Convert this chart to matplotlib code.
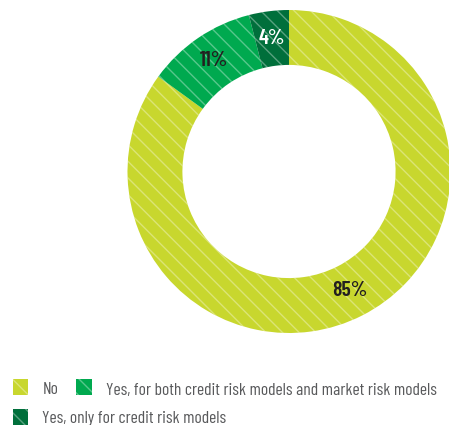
import matplotlib
matplotlib.use("Agg")
import matplotlib.pyplot as plt
from matplotlib.patches import Rectangle

# Share of answers
labels = ['No', 'Yes, for both credit risk models and market risk models',
          'Yes, only for credit risk models']
values = [85, 11, 4]
colors = ['#C8D72E', '#00A94F', '#006F3B']
label_colors = ['#231F20', '#231F20', '#FFFFFF']

FONT = ['Barlow Condensed', 'DejaVu Sans']
plt.rcParams['font.family'] = FONT
plt.rcParams['hatch.linewidth'] = 1.0

fig = plt.figure(figsize=(4.49, 4.25), dpi=100)
ax = fig.add_axes([127.5 / 449, 92 / 425, 323 / 449, 323 / 425])

wedges, texts, autotexts = ax.pie(
    values, colors=colors, startangle=90, counterclock=False, radius=1,
    wedgeprops=dict(width=0.34, linewidth=0, edgecolor=(1, 1, 1, 0.35)),
    autopct='%d%%', pctdistance=0.83,
)
for w in wedges:
    w.set_hatch('\\\\')
    w.set_clip_on(False)
for t, c in zip(autotexts, label_colors):
    t.set_color(c)
    t.set_fontsize(15.5)
    t.set_fontweight(600)
ax.set_xlim(-1, 1)
ax.set_ylim(-1, 1)
ax.axis('off')

# legend drawn by hand: two items on first row, one on second
# (x of square, y of square centre, y of text baseline) in pixels from top-left
legend_pos = [(12.5, 387, 394.5), (76, 387, 394.5), (12.5, 417, 423.5)]
for (x, y, base), lab, col in zip(legend_pos, labels, colors):
    r = Rectangle((x / 449, 1 - (y + 8) / 425), 16 / 449, 16 / 425,
                  transform=fig.transFigure, facecolor=col,
                  edgecolor=(1, 1, 1, 0.35), linewidth=0, hatch='\\\\')
    fig.patches.append(r)
    fig.text((x + 30) / 449, 1 - base / 425, lab, fontsize=12.6,
             color='#58595B', va='baseline', ha='left')

fig.savefig('out.png', dpi=100)
